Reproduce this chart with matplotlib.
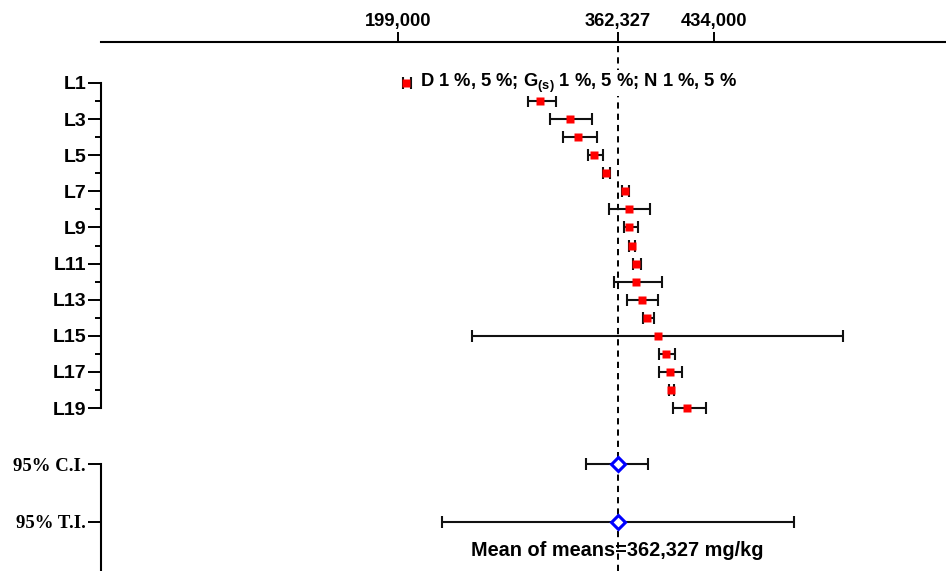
import numpy as np
import matplotlib.pyplot as plt
from matplotlib.ticker import FixedLocator

plt.rcParams["font.family"] = ["Liberation Sans", "DejaVu Sans"]
plt.rcParams["mathtext.fontset"] = "custom"
plt.rcParams["mathtext.rm"] = "Liberation Sans:bold"
plt.rcParams["mathtext.bf"] = "Liberation Sans:bold"

# Laboratory means with lower / upper ends of their error bars (mg/kg)
labs = [f"L{i}" for i in range(1, 20)]
lab_mean = np.array([
    204500, 304500, 326800, 333000, 344900, 353840, 367760, 370960, 370960,
    372750, 376170, 375720, 380190, 384360, 392100, 398280, 401030, 402220,
    413690,
])
lab_low = np.array([
    202900, 295300, 312160, 321840, 340000, 351600, 365300, 355630, 366800,
    370740, 373700, 359800, 369470, 380940, 253660, 393290, 393290, 400290,
    403270,
])
lab_high = np.array([
    208200, 316700, 343200, 347150, 351170, 356600, 370960, 386370, 377200,
    375200, 379450, 395080, 392100, 389120, 530240, 404970, 410410, 404460,
    428280,
])

# Mean of means with confidence / tolerance intervals
grand_mean = 362327
interval_labels = ["95% C.I.", "95% T.I."]
interval_low = np.array([338500, 231300])
interval_high = np.array([385100, 493770])

tick_values = [199000, 362327, 434000]
outlier_note = r"D 1 %, 5 %; G$_{\mathrm{(s)}}$ 1 %, 5 %; N 1 %, 5 %"

fig = plt.figure(figsize=(9.46, 5.71), dpi=100)
ax = fig.add_axes([100.7 / 946, 0.0, (945 - 100.7) / 946, (571 - 42) / 571])

y_labs = np.arange(1, 20)
y_int = np.array([22.12, 25.28])

# dashed reference line at the grand mean
ax.axvline(grand_mean, color="black", lw=1.4, dashes=(3.2, 2.6), zorder=1)

ax.errorbar(lab_mean, y_labs, xerr=[lab_mean - lab_low, lab_high - lab_mean],
            fmt="none", ecolor="#111111", elinewidth=1.5, capsize=4.5,
            capthick=1.5, zorder=2)
ax.plot(lab_mean, y_labs, "s", color="red", markersize=6.2, mec="none",
        zorder=3)

ax.errorbar([grand_mean, grand_mean], y_int,
            xerr=[grand_mean - interval_low, interval_high - grand_mean],
            fmt="none", ecolor="#111111", elinewidth=1.5, capsize=4.5,
            capthick=1.5, zorder=2)
ax.plot([grand_mean, grand_mean], y_int, "D", mfc="white", mec="blue",
        mew=2.2, markersize=7.5, zorder=3)

ax.annotate(outlier_note, xy=(lab_mean[0], 1), xytext=(10.5, 0),
            textcoords="offset points", ha="left", va="center",
            fontsize=13.2, fontweight="bold", zorder=4,
            bbox=dict(boxstyle="square,pad=0.1", fc="white", ec="none"))

ax.text(grand_mean, 26.9, f"Mean of means={grand_mean:,} mg/kg",
        ha="center", va="center", fontsize=14.3, fontweight="bold")

ax.set_xlim(-22470, 605940)
ax.set_ylim(28.02, -1.27)

# x axis along the top
ax.xaxis.tick_top()
ax.set_xticks(tick_values)
ax.set_xticklabels([f"{v:,}" for v in tick_values], fontsize=13.2,
                   fontweight="bold")
ax.tick_params(axis="x", direction="out", length=7.5, width=1.4, pad=1)

# y axis: odd labs labelled, even labs as minor ticks, then the intervals
major_y = list(y_labs[::2]) + list(y_int)
major_lbl = labs[::2] + interval_labels
ax.set_yticks(major_y)
ax.set_yticklabels(major_lbl, fontsize=14, fontweight="bold")
ax.yaxis.set_minor_locator(FixedLocator(y_labs[1::2]))
ax.tick_params(axis="y", which="major", length=9.5, width=1.4, pad=1)
ax.tick_params(axis="y", which="minor", length=4.3, width=1.4)
for lbl in ax.get_yticklabels():
    if lbl.get_text().startswith("95"):
        lbl.set_family("Liberation Serif")
        lbl.set_fontsize(13.5)

for side in ["right", "bottom"]:
    ax.spines[side].set_visible(False)
ax.spines["top"].set_linewidth(1.5)
ax.spines["left"].set_linewidth(1.5)
ax.spines["left"].set_bounds(1, 19)
ax.plot([0, 0], [y_int[0], 28.02], color="black", lw=1.5,
        transform=ax.get_yaxis_transform(), clip_on=False)

fig.savefig("out.png", dpi=100)
